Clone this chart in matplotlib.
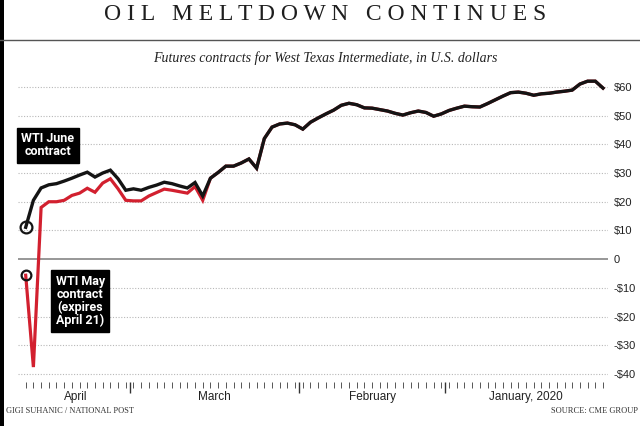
import matplotlib
matplotlib.use("Agg")
import matplotlib.pyplot as plt
import matplotlib.transforms as mtransforms
from matplotlib.patches import Rectangle
from matplotlib.lines import Line2D
import numpy as np
import pandas as pd

W, H = 640, 426

# trading days, Jan 2 - Apr 21 2020 (exchange holidays left out)
holidays = ["2020-01-20", "2020-02-17", "2020-04-10"]
dates = pd.bdate_range("2020-01-02", "2020-04-21", freq="C", holidays=holidays)

# WTI June contract (black), one value per trading day
june = [59.6, 62.0, 62.0, 61.0, 58.9, 58.5, 58.2, 57.8, 57.6, 57.1,
        57.8, 58.2, 58.0, 56.8, 55.5, 54.2, 53.0, 53.1, 53.3, 52.6,
        51.8,
        50.6, 49.8, 51.1, 51.6, 51.0, 50.2, 50.8, 51.6, 52.1, 52.6,
        52.7, 53.8, 54.3, 53.6, 51.9, 50.6, 49.2, 47.7, 45.3,
        46.8, 47.4, 47.1, 46.0, 42.0, 31.7, 34.9, 33.5, 32.4, 32.4,
        30.2, 28.2, 22.0, 26.7, 24.8, 25.5, 26.3, 26.8, 25.8, 25.0,
        24.0, 24.5,
        24.0, 28.0, 31.0, 30.0, 28.6, 30.3, 29.3, 28.2, 27.2, 26.3,
        25.9, 24.8, 20.5, 11.1]

# WTI May contract (red)
may = [59.6, 62.0, 62.0, 61.0, 58.9, 58.5, 58.2, 57.8, 57.6, 57.1,
       57.8, 58.2, 58.0, 56.8, 55.5, 54.2, 53.0, 53.1, 53.3, 52.6,
       51.8,
       50.6, 49.8, 51.1, 51.6, 51.0, 50.2, 50.8, 51.6, 52.1, 52.6,
       52.7, 53.8, 54.3, 53.6, 51.9, 50.6, 49.2, 47.7, 45.3,
       46.8, 47.4, 47.1, 46.0, 42.0, 31.7, 34.9, 33.5, 32.4, 32.4,
       30.2, 28.2, 20.5, 25.3, 23.0, 23.5, 24.0, 24.4, 23.2, 22.0,
       20.3, 20.3,
       20.5, 24.5, 28.0, 26.5, 23.3, 24.7, 23.0, 22.2, 20.5, 20.0,
       20.0, 18.0, -37.6, -5.6]

month_names = ["January, 2020", "February", "March", "April"]
y_ticks = [-40, -30, -20, -10, 0, 10, 20, 30, 40, 50, 60]

RED = "#d2202f"
INK = "#141414"

x = np.arange(len(dates))

fig = plt.figure(figsize=(W / 100, H / 100), dpi=100)
fig.patch.set_facecolor("white")

# axes placed in pixels (left, bottom, width, height)
ax = fig.add_axes([18 / W, 1 - 382 / H, 590 / W, (382 - 72) / H])
ax.set_xlim(76.0, -0.65)   # mirrored: oldest day on the right
ax.set_ylim(-42.8, 65.2)

for v in y_ticks:
    if v == 0:
        ax.axhline(0, color="#7a7a7a", lw=1.1, zorder=1)
    else:
        ax.axhline(v, color="#b8b8b8", lw=0.8, ls=(0, (1, 1.5)), zorder=1)

ax.plot(x, may, color=RED, lw=2.3, solid_joinstyle="miter", zorder=3)
ax.plot(x, june, color=INK, lw=2.4, solid_joinstyle="miter", zorder=4)
ax.plot(x[-1], june[-1], "o", ms=8.5, mfc="none", mec=INK, mew=1.6, zorder=5)
ax.plot(x[-1], may[-1], "o", ms=7, mfc="none", mec=INK, mew=1.6, zorder=5)

for s in ax.spines.values():
    s.set_visible(False)

ax.yaxis.tick_right()
ax.set_yticks(y_ticks)
ax.set_yticklabels([("-" if v < 0 else "") + ("$%d" % abs(v) if v else "0") for v in y_ticks],
                   fontsize=8, color="#222222", family="Liberation Sans")
ax.tick_params(axis="y", length=0, pad=4)

# month boundaries and daily ticks
months = dates.month
bounds = [i - 0.5 for i in range(1, len(dates)) if months[i] != months[i - 1]]
ax.set_xticks(bounds)
ax.set_xticks(x, minor=True)
ax.set_xticklabels([])
ax.tick_params(axis="x", which="major", length=8, width=1.0, color="#333333")
ax.tick_params(axis="x", which="minor", length=4.5, width=0.7, color="#555555")

trans = mtransforms.blended_transform_factory(ax.transData, fig.transFigure)
for m, name in zip(sorted(set(months)), month_names):
    idx = x[months == m]
    ax.text((idx[0] + idx[-1]) / 2, 1 - 397 / H, name, transform=trans,
            ha="center", va="center", fontsize=8.5, color="#222222",
            family="Liberation Sans")

# callout boxes
box = dict(boxstyle="square,pad=0.35", fc="black", ec="black")
ax.text(72.1, 39.7, "WTI June\ncontract", ha="center", va="center",
        fontsize=9, color="white", weight="bold", family="Roboto",
        linespacing=1.0, bbox=box, zorder=6)
ax.text(67.9, -14.6, "WTI May\ncontract\n(expires\nApril 21)", ha="center",
        va="center", fontsize=9, color="white", weight="bold",
        family="Roboto", linespacing=1.0, bbox=box, zorder=6)

# header
fig.text(0.508, 1 - 15 / H, "O I L   M E L T D O W N   C O N T I N U E S",
         ha="center", va="center", fontsize=17, family="Liberation Serif",
         color="#1e1e1e")
fig.add_artist(Line2D([0, 1], [1 - 40 / H] * 2, color="#555555", lw=1.0))
fig.text(0.508, 1 - 58 / H,
         "Futures contracts for West Texas Intermediate, in U.S. dollars",
         ha="center", va="center", fontsize=10, style="italic",
         family="Liberation Serif", color="#222222")

# footer
fig.text(6 / W, 1 - 411 / H, "GIGI SUHANIC / NATIONAL POST", ha="left",
         va="center", fontsize=6, family="Liberation Serif", color="#333333")
fig.text(1 - 2 / W, 1 - 411 / H, "SOURCE: CME GROUP", ha="right",
         va="center", fontsize=6, family="Liberation Serif", color="#333333")

fig.add_artist(Rectangle((0, 0), 4 / W, 1, transform=fig.transFigure,
                         fc="black", ec="none"))

fig.savefig("out.png", dpi=100, facecolor="white")
